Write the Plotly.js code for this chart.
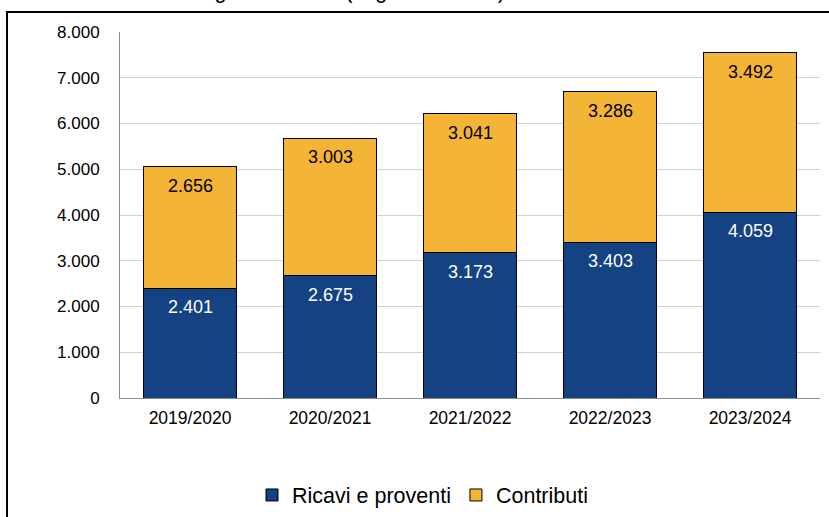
<!DOCTYPE html>
<html>
<head>
<meta charset="utf-8">
<script src="https://cdn.plot.ly/plotly-3.0.1.min.js"></script>
<style>
  html, body { margin: 0; padding: 0; background: #ffffff; }
  #chart { width: 829px; height: 517px; }
</style>
</head>
<body>
<div id="chart"></div>
<script>
const categories = ["2019/2020", "2020/2021", "2021/2022", "2022/2023", "2023/2024"];
const ricavi = [2401, 2675, 3173, 3403, 4059];
const contributi = [2656, 3003, 3041, 3286, 3492];
const seriesNames = ["Ricavi e proventi", "Contributi"];
const yTicks = [0, 1000, 2000, 3000, 4000, 5000, 6000, 7000, 8000];
const yTickText = ["0", "1.000", "2.000", "3.000", "4.000", "5.000", "6.000", "7.000", "8.000"];
const titleText = "Ricavi e contributi degli ultimi anni (migliaia di euro)";

const BLUE = "#154283";
const YELLOW = "#F4B436";
const FONT = "Liberation Sans, Arial, sans-serif";

function fmt(v) {
  const s = String(Math.round(v));
  return s.replace(/\B(?=(\d{3})+(?!\d))/g, ".");
}

const traces = [
  {
    type: "bar", name: seriesNames[0], x: categories, y: ricavi,
    marker: { color: BLUE, line: { color: "#000000", width: 1 } },
    hoverinfo: "none"
  },
  {
    type: "bar", name: seriesNames[1], x: categories, y: contributi,
    marker: { color: YELLOW, line: { color: "#000000", width: 1 } },
    hoverinfo: "none"
  }
];

const annotations = [];
categories.forEach((c, i) => {
  annotations.push({
    x: c, y: ricavi[i], xref: "x", yref: "y", text: fmt(ricavi[i]),
    showarrow: false, yanchor: "top", yshift: -7,
    font: { family: FONT, size: 18, color: "#ffffff" }
  });
  annotations.push({
    x: c, y: ricavi[i] + contributi[i], xref: "x", yref: "y", text: fmt(contributi[i]),
    showarrow: false, yanchor: "top", yshift: -7,
    font: { family: FONT, size: 18, color: "#000000" }
  });
});
// title, cut at the top of the picture as in the reference
annotations.push({
  xref: "paper", yref: "paper", x: (507 - 120) / 700, y: (398 - 5) / 366,
  xanchor: "right", yanchor: "bottom", text: titleText, showarrow: false,
  font: { family: FONT, size: 21.6, color: "#000000" }
});

const layout = {
  width: 829, height: 517,
  margin: { l: 120, r: 9, t: 32, b: 119, autoexpand: false },
  paper_bgcolor: "#ffffff", plot_bgcolor: "#ffffff",
  barmode: "stack", bargap: 0.33,
  showlegend: true,
  legend: {
    orientation: "h", xref: "container", yref: "container",
    x: 252 / 829, xanchor: "left",
    y: (517 - 495) / 517, yanchor: "middle",
    font: { family: FONT, size: 21.5, color: "#000000" },
    itemwidth: 30, traceorder: "normal"
  },
  xaxis: {
    type: "category", range: [-0.5, 4.5], fixedrange: true, automargin: false,
    showline: true, linecolor: "#8c8c8c", linewidth: 1,
    ticks: "", showgrid: false, ticklabelstandoff: 4,
    tickfont: { family: FONT, size: 17.5, color: "#000000" }
  },
  yaxis: {
    range: [0, 8000], tickvals: yTicks, ticktext: yTickText, fixedrange: true, automargin: false,
    showline: true, linecolor: "#8c8c8c", linewidth: 1,
    showgrid: true, gridcolor: "#d0d0d0", gridwidth: 1,
    zeroline: false, ticks: "", ticklabelstandoff: 16,
    tickfont: { family: FONT, size: 17, color: "#000000" }
  },
  annotations: annotations,
  shapes: [
    {
      type: "rect", xref: "paper", yref: "paper",
      x0: (7 - 120) / 700, x1: (860 - 120) / 700,
      y0: (398 - 560) / 366, y1: (398 - 12) / 366,
      line: { color: "#000000", width: 2 }, fillcolor: "rgba(0,0,0,0)", layer: "below"
    }
  ]
};

Plotly.newPlot("chart", traces, layout, { displayModeBar: false, staticPlot: true });
</script>
</body>
</html>
